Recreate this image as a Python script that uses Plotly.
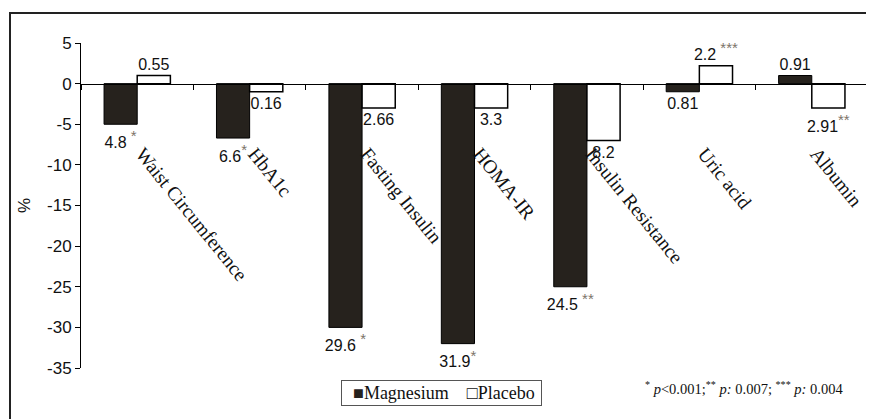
import plotly.graph_objects as go

categories = ["Waist Circumference", "HbA1c", "Fasting Insulin", "HOMA-IR",
              "Insulin Resistance", "Uric acid", "Albumin"]
mg_vals = [-5, -6.7, -30, -32, -25, -1, 1]
pl_vals = [1, -1, -3, -3, -7, 2.2, -3]
mg_labels = ["4.8", "6.6", "29.6", "31.9", "24.5", "0.81", "0.91"]
mg_marks = [" *", "*", " *", "*", " **", "", ""]
pl_labels = ["0.55", "0.16", "2.66", "3.3", "8.2", "2.2", "2.91"]
pl_marks = ["", "", "", "", "", " ***", "**"]
y_ticks = [5, 0, -5, -10, -15, -20, -25, -30, -35]
y_tick_labels = ["5", "0", "-5", "-10", "-15", "-20", "-25", "-30", "-35"]

MARK_COLOR = "#7d7468"
MG_COLOR = "#26221d"
SERIF = "Liberation Serif"
SANS = "Liberation Sans"


def fmt(labels, marks):
    out = []
    for l, m in zip(labels, marks):
        if m:
            out.append(f"{l}<sup><span style='color:{MARK_COLOR};font-size:15px'>{m}</span></sup>")
        else:
            out.append(l)
    return out


fig = go.Figure()
fig.add_trace(go.Bar(
    name="Magnesium", x=categories, y=mg_vals,
    marker=dict(color=MG_COLOR, line=dict(color="#000000", width=1)),
    text=fmt(mg_labels, mg_marks), textposition="outside",
    textfont=dict(family=SANS, size=16, color="#111111"),
    cliponaxis=False, constraintext="none", hoverinfo="skip",
))
fig.add_trace(go.Bar(
    name="Placebo", x=categories, y=pl_vals,
    marker=dict(color="#ffffff", line=dict(color="#000000", width=1.5)),
    text=fmt(pl_labels, pl_marks), textposition="outside",
    textfont=dict(family=SANS, size=16, color="#111111"),
    cliponaxis=False, constraintext="none", hoverinfo="skip",
))

# page is offset by the 8px body margin; coordinates below are figure coords
W, H = 874, 419
ml, mr, mt, mb = 73, 14, 35, 59
pw = W - ml - mr
ph = H - mt - mb


def px(x):
    return (x - ml) / pw


def py(y):
    return (H - mb - y) / ph


fig.update_layout(
    width=W, height=H,
    font=dict(family=SERIF, color="#111111"),
    margin=dict(l=ml, r=mr, t=mt, b=mb, pad=0, autoexpand=False),
    paper_bgcolor="white", plot_bgcolor="white",
    barmode="group", bargap=0.41, bargroupgap=0,
    showlegend=False,
    xaxis=dict(
        type="category", anchor="free", position=35 / 40, automargin=False,
        showline=True, linecolor="#000000", linewidth=1,
        ticks="outside", tickson="boundaries", ticklen=5, tickcolor="#000000",
        tickangle=51, ticklabelstandoff=50, ticklabelshift=5,
        tickfont=dict(family=SERIF, size=19.5, color="#111111"),
        showgrid=False, zeroline=False, range=[-0.5, 6.5],
    ),
    yaxis=dict(
        range=[-35, 5], tickvals=y_ticks, ticktext=y_tick_labels,
        automargin=False, showline=True, linecolor="#000000",
        linewidth=1, ticks="outside", ticklen=5, tickcolor="#000000",
        tickfont=dict(family=SANS, size=17, color="#111111"),
        showgrid=False, zeroline=False,
        title=dict(text="%", font=dict(family=SANS, size=17, color="#111111"),
                   standoff=12),
    ),
    shapes=[dict(
        type="rect", xref="paper", yref="paper",
        x0=px(2), x1=1.2, y0=-0.5, y1=py(5),
        line=dict(color="#222222", width=2), fillcolor="rgba(0,0,0,0)",
        layer="above",
    )],
    annotations=[
        dict(
            xref="paper", yref="paper",
            x=px(837), y=py(380),
            xanchor="right", yanchor="middle", showarrow=False,
            text="<sup>*</sup> <i>p</i>&lt;0.001;<sup>**</sup> <i>p:</i> 0.007; <sup>***</sup> <i>p:</i> 0.004",
            font=dict(family=SERIF, size=14.5, color="#111111"),
        ),
        dict(
            xref="paper", yref="paper",
            x=px(433.5), y=py(384.5),
            xanchor="center", yanchor="middle", showarrow=False,
            text=(f"&nbsp;&nbsp;<span style='color:{MG_COLOR}'>■</span>Magnesium"
                  "&nbsp;&nbsp;&nbsp;&nbsp;□Placebo&nbsp;"),
            font=dict(family=SERIF, size=18, color="#111111"),
            bordercolor="#555555", borderwidth=1, borderpad=2,
            bgcolor="white",
        ),
    ],
)

fig.write_html("out.html")
